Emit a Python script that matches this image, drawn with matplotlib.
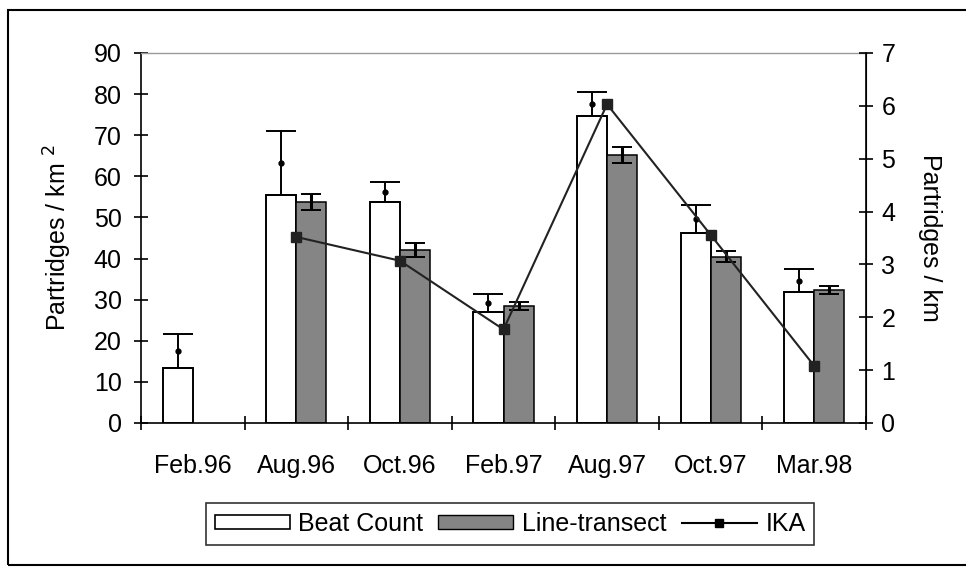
import numpy as np
import matplotlib.pyplot as plt
from matplotlib.lines import Line2D

plt.rcParams['font.family'] = ['Liberation Sans', 'DejaVu Sans']

# sampling dates
dates = ["Feb.96", "Aug.96", "Oct.96", "Feb.97", "Aug.97", "Oct.97", "Mar.98"]

# density estimates (partridges / km2)
beat = [13.4, 55.5, 53.7, 27.1, 74.7, 46.2, 31.8]
beat_err = [8.3, 15.6, 4.8, 4.2, 5.8, 6.8, 5.7]
transect = [np.nan, 53.8, 42.1, 28.5, 65.2, 40.5, 32.4]
transect_err = [np.nan, 2.0, 1.6, 0.9, 1.9, 1.4, 1.0]

# kilometric abundance index (partridges / km)
ika = [np.nan, 3.52, 3.07, 1.77, 6.03, 3.56, 1.08]

x = np.arange(len(dates))
w = 0.29
fs = 18

fig = plt.figure(figsize=(9.66, 5.67), dpi=100)
ax = fig.add_axes([141/966, 1 - 423/567, (866 - 141)/966, (423 - 53)/567])

ax.bar(x - w/2, beat, w, color='white', edgecolor='black', linewidth=1.4, zorder=2)
ax.bar(x + w/2, transect, w, color='#858585', edgecolor='black', linewidth=1.1, zorder=2)

# beat count: upper error bar only, with a dot half way up
ax.errorbar(x - w/2, beat, yerr=[np.zeros(len(beat)), beat_err], fmt='none',
            ecolor='black', elinewidth=1.4, capsize=11, capthick=1.4, zorder=3)
ax.plot(x - w/2, np.array(beat) + np.array(beat_err)/2, 'o', color='black', ms=3.5, zorder=4)
ax.errorbar(x + w/2, transect, yerr=transect_err, fmt='none',
            ecolor='black', elinewidth=2.2, capsize=7.5, capthick=1.4, zorder=3)

ax.set_xlim(-0.5, len(dates) - 0.5)
ax.set_ylim(0, 90)
ax.set_yticks(np.arange(0, 91, 10))
ax.set_xticks(np.arange(-0.5, len(dates), 1.0))
ax.set_xticklabels([])
ax.set_xticks(x, minor=True)
ax.set_xticklabels(dates, minor=True)
ax.tick_params(axis='x', which='minor', length=0, pad=22, labelsize=fs)
ax.tick_params(axis='x', which='major', direction='inout', length=10, width=1.2)
ax.tick_params(axis='y', direction='inout', length=10, width=1.2, labelsize=fs, pad=9)
ax.set_ylabel('Partridges / km $^2$', fontsize=fs, labelpad=14)

for s in ['left', 'bottom']:
    ax.spines[s].set_linewidth(1.2)
ax.spines['top'].set_color('#9a9a9a')
ax.spines['top'].set_linewidth(1.0)

ax2 = ax.twinx()
ax2.plot(x, ika, '-', color='#222222', lw=1.5, marker='s', ms=7,
         mfc='#222222', mec='#222222', zorder=5)
ax2.set_ylim(0, 7)
ax2.set_yticks(np.arange(0, 8, 1))
ax2.tick_params(axis='y', direction='inout', length=10, width=1.2, labelsize=fs, pad=6)
ax2.set_ylabel('Partridges / km', fontsize=fs, rotation=270, labelpad=34)
ax2.spines['right'].set_linewidth(1.2)
ax2.spines['top'].set_visible(False)
ax2.spines['left'].set_visible(False)
ax2.spines['bottom'].set_visible(False)

handles = [
    plt.Rectangle((0, 0), 1, 1, facecolor='white', edgecolor='black', lw=1.2),
    plt.Rectangle((0, 0), 1, 1, facecolor='#858585', edgecolor='black', lw=1.0),
    Line2D([], [], color='black', lw=1.5, marker='s', ms=6),
]
leg = fig.legend(handles, ['Beat Count', 'Line-transect', 'IKA'], ncol=3,
                 loc='center', bbox_to_anchor=(510/966, 1 - 524/567),
                 fontsize=fs, frameon=True, fancybox=False, edgecolor='black',
                 handlelength=3.0, handleheight=0.5, handletextpad=0.35,
                 columnspacing=0.6, borderpad=0.35, borderaxespad=0)
leg.get_frame().set_linewidth(1.2)

# outer chart frame
fig.add_artist(plt.Rectangle((8/966, 2/567), 1.2, 1 - 12/567, transform=fig.transFigure,
                             fill=False, edgecolor='black', lw=1.5))

fig.savefig('out.png', dpi=100)
